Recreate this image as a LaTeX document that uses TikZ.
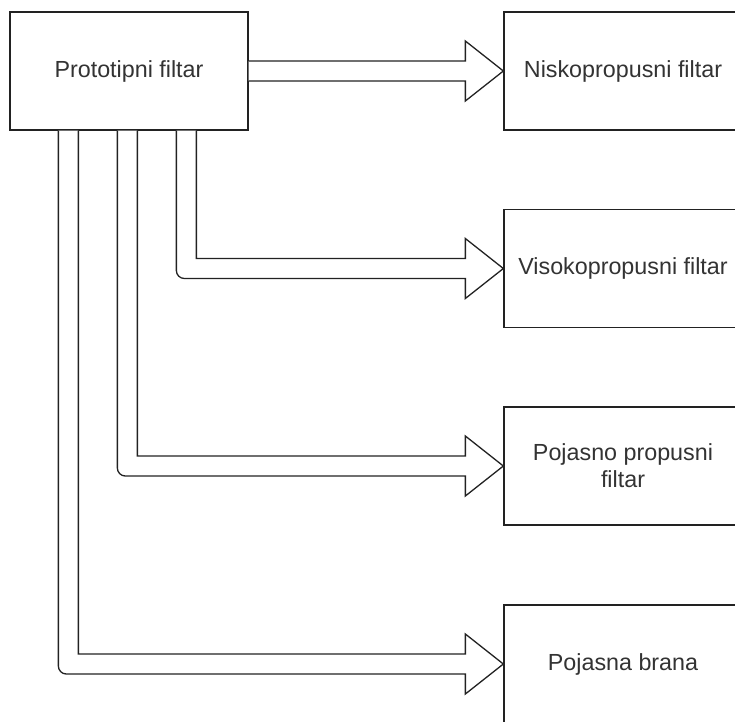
\documentclass[tikz,border=0pt]{standalone}
\usepackage{fontspec}
\setmainfont{Liberation Sans}
\usetikzlibrary{calc}
\definecolor{linec}{HTML}{222222}
\definecolor{textc}{HTML}{333333}
\tikzset{
  box/.style={draw=linec, line width=1.3pt, fill=white, minimum width=238pt, minimum height=118pt,
    inner sep=0pt, align=center, text=textc, font=\fontsize{23.3}{27}\selectfont},
  blockarrow/.style={draw=linec, line width=1.3pt, fill=white, line join=miter}
}
\begin{document}
\begin{tikzpicture}[x=1pt,y=1pt]
\useasboundingbox (0,0) rectangle (735,-721);
\begin{scope}
\clip (0,0) rectangle (735,-721);
\node[box] (proto) at (129,-71) {Prototipni filtar};
\node[box] (nisko) at (623,-71) {Niskopropusni filtar};
\node[box] (visoko) at (623,-268.5) {Visokopropusni filtar};
\node[box] (pojasno) at (623,-466) {Pojasno propusni\\filtar};
\node[box] (brana) at (623,-664) {Pojasna brana};

% arrow 1
\draw[blockarrow] ($(proto.east)+(0,10)$) -- ($(nisko.west)+(-38,10)$) -- ($(nisko.west)+(-38,30)$)
  -- (nisko.west) -- ($(nisko.west)+(-38,-30)$) -- ($(nisko.west)+(-38,-10)$) -- ($(proto.east)+(0,-10)$);

% arrow 2
\coordinate (s2) at ($(proto.south west)+(177,0)$);
\draw[blockarrow] ($(s2)+(-10,0)$) -- ($(s2 |- visoko.west)+(-10,-2)$)
  arc[start angle=180, end angle=270, radius=8] -- ($(visoko.west)+(-38,-10)$)
  -- ($(visoko.west)+(-38,-30)$) -- (visoko.west) -- ($(visoko.west)+(-38,30)$)
  -- ($(visoko.west)+(-38,10)$) -- ($(s2 |- visoko.west)+(10,10)$) -- ($(s2)+(10,0)$);

% arrow 3
\coordinate (s3) at ($(proto.south west)+(118,0)$);
\draw[blockarrow] ($(s3)+(-10,0)$) -- ($(s3 |- pojasno.west)+(-10,-2)$)
  arc[start angle=180, end angle=270, radius=8] -- ($(pojasno.west)+(-38,-10)$)
  -- ($(pojasno.west)+(-38,-30)$) -- (pojasno.west) -- ($(pojasno.west)+(-38,30)$)
  -- ($(pojasno.west)+(-38,10)$) -- ($(s3 |- pojasno.west)+(10,10)$) -- ($(s3)+(10,0)$);

% arrow 4
\coordinate (s4) at ($(proto.south west)+(59,0)$);
\draw[blockarrow] ($(s4)+(-10,0)$) -- ($(s4 |- brana.west)+(-10,-2)$)
  arc[start angle=180, end angle=270, radius=8] -- ($(brana.west)+(-38,-10)$)
  -- ($(brana.west)+(-38,-30)$) -- (brana.west) -- ($(brana.west)+(-38,30)$)
  -- ($(brana.west)+(-38,10)$) -- ($(s4 |- brana.west)+(10,10)$) -- ($(s4)+(10,0)$);
\end{scope}
\end{tikzpicture}
\end{document}
